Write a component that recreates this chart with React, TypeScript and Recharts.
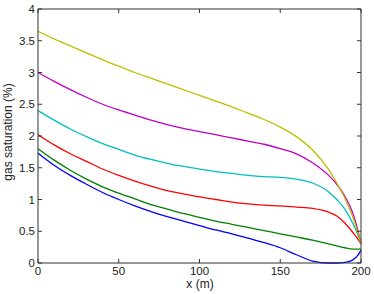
import React from 'react';
import { LineChart, Line, XAxis, YAxis } from 'recharts';

const xs = [0, 10, 20, 30, 40, 50, 60, 70, 80, 90, 100, 110, 120, 130, 140, 150, 160, 170, 180, 185, 190, 195, 198, 200];

const blue = [1.73, 1.54, 1.38, 1.24, 1.11, 1.0, 0.9, 0.81, 0.73, 0.66, 0.59, 0.52, 0.46, 0.39, 0.32, 0.24, 0.13, 0.03, 0.0, 0.0, 0.01, 0.05, 0.12, 0.2];
const green = [1.8, 1.62, 1.46, 1.32, 1.2, 1.1, 1.01, 0.92, 0.85, 0.78, 0.72, 0.66, 0.61, 0.56, 0.51, 0.46, 0.41, 0.36, 0.3, 0.27, 0.24, 0.22, 0.22, 0.22];
const red = [2.02, 1.86, 1.72, 1.6, 1.48, 1.38, 1.29, 1.21, 1.14, 1.09, 1.04, 1.0, 0.96, 0.93, 0.91, 0.9, 0.88, 0.86, 0.8, 0.74, 0.63, 0.48, 0.38, 0.3];
const cyan = [2.4, 2.25, 2.11, 1.99, 1.88, 1.79, 1.7, 1.63, 1.57, 1.52, 1.48, 1.44, 1.41, 1.38, 1.36, 1.35, 1.32, 1.26, 1.12, 1.0, 0.85, 0.62, 0.45, 0.3];
const magenta = [3.0, 2.86, 2.73, 2.61, 2.5, 2.41, 2.33, 2.25, 2.18, 2.12, 2.07, 2.02, 1.97, 1.92, 1.87, 1.8, 1.72, 1.58, 1.38, 1.24, 1.05, 0.78, 0.52, 0.3];
const yellow = [3.65, 3.53, 3.42, 3.31, 3.2, 3.1, 3.0, 2.91, 2.82, 2.73, 2.64, 2.55, 2.46, 2.36, 2.26, 2.14, 1.99, 1.78, 1.47, 1.26, 1.02, 0.72, 0.48, 0.3];

const xTicks = [0, 50, 100, 150, 200];
const yTicks = [0, 0.5, 1, 1.5, 2, 2.5, 3, 3.5, 4];

const data = xs.map((x, i) => ({
  x,
  blue: blue[i],
  green: green[i],
  red: red[i],
  cyan: cyan[i],
  magenta: magenta[i],
  yellow: yellow[i],
}));

const series = [
  { key: 'blue', color: '#0000ff' },
  { key: 'green', color: '#008000' },
  { key: 'red', color: '#ff0000' },
  { key: 'cyan', color: '#00bfbf' },
  { key: 'magenta', color: '#bf00bf' },
  { key: 'yellow', color: '#bfbf00' },
];

const FONT = '"Liberation Sans", Arial, sans-serif';
const AXIS = '#333';
const TL = 4;

const LeftTick = (props: any) => {
  const { x, y, payload } = props;
  return (
    <g>
      <line x1={x} x2={x + TL} y1={y} y2={y} stroke={AXIS} />
      <text x={x - 3} y={y} dy={4} textAnchor="end" fontSize={11.5} fill="#222" fontFamily={FONT}>
        {payload.value}
      </text>
    </g>
  );
};

const BottomTick = (props: any) => {
  const { x, y, payload } = props;
  return (
    <g>
      <line x1={x} x2={x} y1={y} y2={y - TL} stroke={AXIS} />
      <text x={x} y={y + 12} textAnchor="middle" fontSize={11.5} fill="#222" fontFamily={FONT}>
        {payload.value}
      </text>
    </g>
  );
};

// top / right frame ticks point into the plot
const TopTick = (props: any) => {
  const { x, y } = props;
  return <line x1={x} x2={x} y1={y} y2={y + TL} stroke={AXIS} />;
};

const RightTick = (props: any) => {
  const { x, y } = props;
  return <line x1={x} x2={x - TL} y1={y} y2={y} stroke={AXIS} />;
};

export default function App() {
  return (
    <div style={{ position: 'absolute', left: 0, top: 0, width: 374, height: 294, background: '#fff', fontFamily: FONT }}>
      <LineChart width={374} height={294} data={data} margin={{ top: 8, right: 12, left: 0, bottom: 0 }}>
        <XAxis
          dataKey="x"
          type="number"
          domain={[0, 200]}
          ticks={xTicks}
          height={31}
          tickSize={0}
          tickMargin={0}
          tickLine={false}
          stroke={AXIS}
          tick={<BottomTick />}
        />
        <XAxis
          xAxisId="top"
          orientation="top"
          dataKey="x"
          type="number"
          domain={[0, 200]}
          ticks={xTicks}
          height={1}
          tickSize={0}
          tickMargin={0}
          tickLine={false}
          stroke={AXIS}
          tick={<TopTick />}
        />
        <YAxis
          type="number"
          domain={[0, 4]}
          ticks={yTicks}
          width={38}
          tickSize={0}
          tickMargin={0}
          tickLine={false}
          stroke={AXIS}
          tick={<LeftTick />}
        />
        <YAxis
          yAxisId="right"
          orientation="right"
          type="number"
          domain={[0, 4]}
          ticks={yTicks}
          width={1}
          tickSize={0}
          tickMargin={0}
          tickLine={false}
          stroke={AXIS}
          tick={<RightTick />}
        />
        <Line
          xAxisId="top"
          yAxisId="right"
          dataKey="yellow"
          stroke="none"
          dot={false}
          activeDot={false}
          isAnimationActive={false}
        />
        {series.map((s) => (
          <Line
            key={s.key}
            dataKey={s.key}
            stroke={s.color}
            strokeWidth={1.3}
            dot={false}
            type="monotone"
            isAnimationActive={false}
          />
        ))}
      </LineChart>
      <div style={{ position: 'absolute', left: 200, top: 284, transform: 'translate(-50%, -50%)', fontSize: 12, lineHeight: '12px', color: '#222', whiteSpace: 'nowrap' }}>
        x (m)
      </div>
      <div style={{ position: 'absolute', left: 8, top: 132, transform: 'translate(-50%, -50%) rotate(-90deg)', fontSize: 12, lineHeight: '14px', color: '#222', whiteSpace: 'nowrap' }}>
        gas saturation (%)
      </div>
    </div>
  );
}
